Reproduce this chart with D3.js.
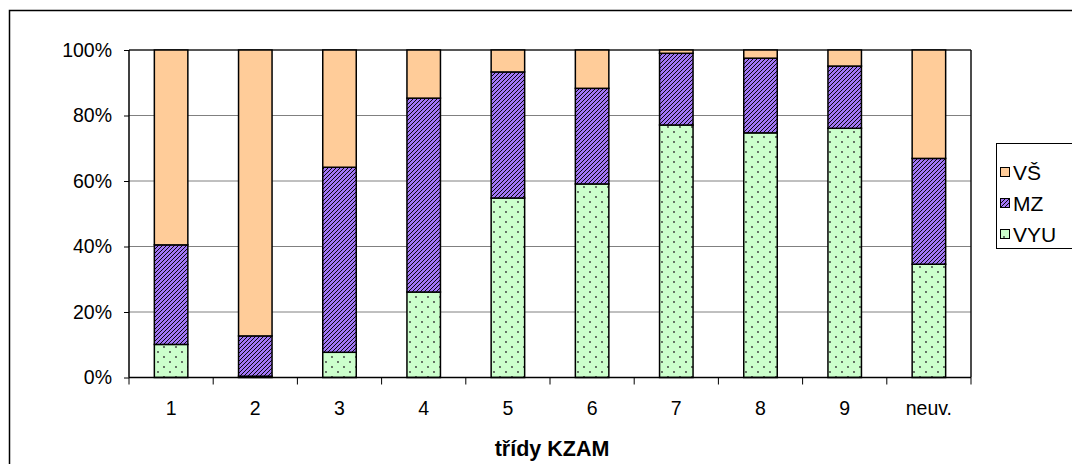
<!DOCTYPE html>
<html><head><meta charset="utf-8">
<script src="https://cdn.jsdelivr.net/npm/d3@7"></script>
<style>body{margin:0;background:#fff}svg{display:block}text{font-family:"Liberation Sans",Arial,sans-serif}</style>
</head><body>
<svg id="c" width="1072" height="464"></svg>
<script>
const categories = ["1","2","3","4","5","6","7","8","9","neuv."];
const VYU = [10.1, 0.4, 7.7, 26.1, 54.8, 59.1, 77.1, 74.7, 76.1, 34.6];
const MZ  = [30.4, 12.3, 56.5, 59.2, 38.5, 29.2, 21.9, 22.8, 19.0, 32.3];
const VS  = [59.5, 87.3, 35.8, 14.7, 6.7, 11.7, 1.0, 2.5, 4.9, 33.1];
const seriesNames = ["VYU","MZ","VŠ"];
const yTicks = [0,20,40,60,80,100];
const xTitle = "třídy KZAM";

const svg = d3.select("#c");
const defs = svg.append("defs");
const ph = defs.append("pattern").attr("id","hatch").attr("patternUnits","userSpaceOnUse")
  .attr("width",4).attr("height",4);
ph.append("rect").attr("width",4).attr("height",4).attr("fill","#a277f5");
ph.append("path").attr("d","M-1,1 L1,-1 M0,4 L4,0 M3,5 L5,3").attr("stroke","#000").attr("stroke-width",0.95);
const pd = defs.append("pattern").attr("id","dots").attr("patternUnits","userSpaceOnUse")
  .attr("width",12).attr("height",10);
pd.append("rect").attr("width",12).attr("height",10).attr("fill","#ccffcc");
pd.append("circle").attr("cx",2).attr("cy",2).attr("r",0.9).attr("fill","#333");
pd.append("circle").attr("cx",8).attr("cy",7).attr("r",0.9).attr("fill","#333");
const fills = {"VYU":"url(#dots)","MZ":"url(#hatch)","VŠ":"#ffcc99"};

svg.append("rect").attr("x",9.5).attr("y",10.5).attr("width",1100).attr("height",500)
  .attr("fill","none").attr("stroke","#000").attr("stroke-width",1.5);

const L=129, R=971, T=50, B=377.5;
const xb = d3.scaleBand().domain(categories).range([L,R]);
const y = d3.scaleLinear().domain([0,100]).range([B,T]);

svg.append("g").selectAll("line").data(yTicks.filter(d=>d>0)).join("line")
  .attr("x1",L).attr("x2",R).attr("y1",d=>y(d)).attr("y2",d=>y(d))
  .attr("stroke","#808080").attr("stroke-width",1);
svg.append("line").attr("x1",L).attr("x2",R).attr("y1",T).attr("y2",T).attr("stroke","#333").attr("stroke-width",1.5);
svg.append("line").attr("x1",R).attr("x2",R).attr("y1",T).attr("y2",B).attr("stroke","#111").attr("stroke-width",1.5);

const rows = categories.map((c,i)=>({cat:c, VYU:VYU[i], MZ:MZ[i], "VŠ":VS[i]}));
const stack = d3.stack().keys(seriesNames)(rows);
const bw = 33.5;
svg.append("g").selectAll("g").data(stack).join("g").attr("fill",d=>fills[d.key])
  .selectAll("rect").data(d=>d).join("rect")
  .attr("x",d=>xb(d.data.cat)+xb.bandwidth()/2-bw/2).attr("width",bw)
  .attr("y",d=>y(d[1])).attr("height",d=>y(d[0])-y(d[1]))
  .attr("stroke","#000").attr("stroke-width",1.5);

const ya = d3.axisLeft(y).tickValues(yTicks).tickFormat(d=>d+"%").tickSize(5).tickPadding(12);
const gy = svg.append("g").attr("transform",`translate(${L},0)`).call(ya);
gy.select(".domain").attr("stroke","#000").attr("stroke-width",1.5).attr("d",`M0,${T}V${B}`);
gy.selectAll(".tick line").attr("stroke","#000");
gy.selectAll("text").attr("font-size",19.5).attr("fill","#000").attr("font-family","Liberation Sans, Arial");

const gx = svg.append("g").attr("transform",`translate(0,${B})`);
gx.append("line").attr("x1",L).attr("x2",R).attr("stroke","#000").attr("stroke-width",1.5);
gx.selectAll("line.t").data(d3.range(categories.length+1)).join("line").attr("class","t")
  .attr("x1",i=>L+i*xb.step()).attr("x2",i=>L+i*xb.step()).attr("y1",0).attr("y2",7).attr("stroke","#000");
gx.selectAll("text").data(categories).join("text")
  .attr("x",d=>xb(d)+xb.bandwidth()/2).attr("y",37).attr("text-anchor","middle")
  .attr("font-size",19.5).text(d=>d);
svg.append("text").attr("x",552).attr("y",456).attr("text-anchor","middle")
  .attr("font-size",21.5).attr("font-weight","bold").text(xTitle);

const lg = svg.append("g");
lg.append("rect").attr("x",996.5).attr("y",143.5).attr("width",76).attr("height",105)
  .attr("fill","#fff").attr("stroke","#000").attr("stroke-width",1);
const legendOrder = ["VŠ","MZ","VYU"];
const ly = [172,203,234];
legendOrder.forEach((k,i)=>{
  lg.append("rect").attr("x",1000.5).attr("y",ly[i]-4.5).attr("width",9).attr("height",9)
    .attr("fill",fills[k]).attr("stroke","#000").attr("stroke-width",1);
  lg.append("text").attr("x",1013).attr("y",ly[i]+7.5).attr("font-size",21).text(k);
});
</script>
</body></html>
